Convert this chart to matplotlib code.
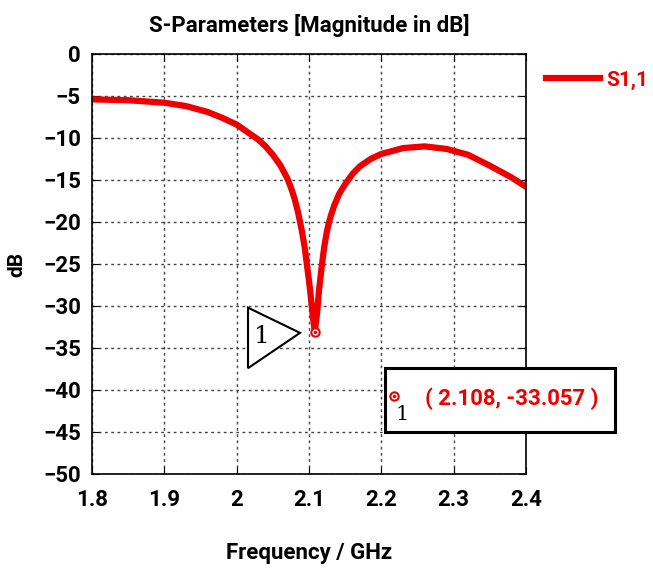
import matplotlib
matplotlib.use("Agg")
import matplotlib.pyplot as plt
from matplotlib.patches import Polygon, Rectangle

# S11
freq = [1.80, 1.85, 1.90, 1.93, 1.96, 1.98, 2.00, 2.02, 2.03, 2.04, 2.05, 2.06,
        2.07, 2.075, 2.08, 2.085, 2.09, 2.094, 2.097, 2.100, 2.102, 2.105, 2.108,
        2.111, 2.114, 2.118, 2.121, 2.125, 2.13, 2.135, 2.142, 2.15, 2.16, 2.17,
        2.185, 2.20, 2.23, 2.26, 2.29, 2.32, 2.35, 2.38, 2.40]
s11 = [-5.4, -5.5, -5.8, -6.2, -6.9, -7.6, -8.4, -9.6, -10.2, -11.0, -12.0, -13.2,
       -14.8, -15.9, -17.2, -18.9, -21.0, -23.0, -25.0, -27.0, -28.5, -31.0, -33.057,
       -31.0, -28.0, -25.0, -23.0, -21.0, -19.3, -18.0, -16.6, -15.5, -14.3, -13.4,
       -12.5, -11.9, -11.2, -11.0, -11.3, -12.0, -13.3, -14.7, -15.8]
marker_f = 2.108
marker_db = -33.057
xticks = [1.8, 1.9, 2.0, 2.1, 2.2, 2.3, 2.4]
xlabels = ["1.8", "1.9", "2", "2.1", "2.2", "2.3", "2.4"]
yticks = list(range(0, -55, -5))

red = "#ee0000"
plt.rcParams["font.family"] = ["Roboto", "DejaVu Sans"]

W, H = 653, 573
fig = plt.figure(figsize=(W / 100, H / 100), dpi=100)
ax = fig.add_axes([92 / W, 1 - 474 / H, 434 / W, 420 / H])


def px(x, y):
    # pixel position in the picture -> figure fraction
    return x / W, 1 - y / H


ax.plot(freq, s11, color=red, lw=4.5, solid_joinstyle="round", label="S1,1")
ax.plot(marker_f, marker_db, "o", ms=6, mfc="white", mec=red, mew=1.5)
ax.plot(marker_f, marker_db, ".", ms=3, color=red)

# marker label triangle
tri = Polygon([(2.0157, -30.2), (2.0157, -37.4), (2.0876, -33.2)], closed=True,
              facecolor="white", edgecolor="black", lw=1.5, zorder=5)
ax.add_patch(tri)
ax.text(2.035, -33.6, "1", family="DejaVu Serif", fontsize=18, ha="center",
        va="center", zorder=6)

ax.set_xlim(1.8, 2.4)
ax.set_ylim(-50, 0)
ax.set_xticks(xticks)
ax.set_xticklabels(xlabels)
ax.set_yticks(yticks)
ax.tick_params(direction="in", top=True, right=True, labelsize=16, length=5)
ax.tick_params(axis="x", pad=11)
ax.tick_params(axis="y", pad=8)
for lab in ax.get_xticklabels() + ax.get_yticklabels():
    lab.set_fontweight("bold")
ax.grid(True, color="#444444", ls=(0, (2, 2.5)), lw=1)
for sp in ax.spines.values():
    sp.set_linewidth(1.2)

ax.set_title("S-Parameters [Magnitude in dB]", fontsize=16, fontweight="bold", pad=16)
ax.set_xlabel("Frequency / GHz", fontsize=16, fontweight="bold", labelpad=22)
ax.set_ylabel("dB", fontsize=15, fontweight="bold", labelpad=12)

# marker readout box
x0, y0 = px(385, 432)
x1, y1 = px(615, 368)
fig.patches.append(Rectangle((x0, y0), x1 - x0, y1 - y0, transform=fig.transFigure,
                             fc="white", ec="black", lw=2.2, zorder=7))
tx, ty = px(512, 399)
fig.text(tx, ty, "( 2.108, -33.057 )", color=red, fontsize=16, fontweight="bold",
         ha="center", va="center", zorder=8)
mx, my = px(394, 396)
fig.add_artist(plt.Line2D([mx], [my], marker="o", ms=6, mfc="white", mec=red,
                          mew=1.5, transform=fig.transFigure, zorder=9))
fig.add_artist(plt.Line2D([mx], [my], marker=".", ms=3, color=red,
                          transform=fig.transFigure, zorder=9))
nx, ny = px(402, 415)
fig.text(nx, ny, "1", family="DejaVu Serif", fontsize=15, ha="center",
         va="center", zorder=9)

lx, ly = px(546, 80)
leg = fig.legend(loc="center left", bbox_to_anchor=(lx, ly), frameon=False,
                 borderpad=0, borderaxespad=0, handlelength=2.6, handletextpad=0.3,
                 prop={"size": 15, "weight": "bold"})
for t in leg.get_texts():
    t.set_color(red)

fig.savefig("out.png", dpi=100)
